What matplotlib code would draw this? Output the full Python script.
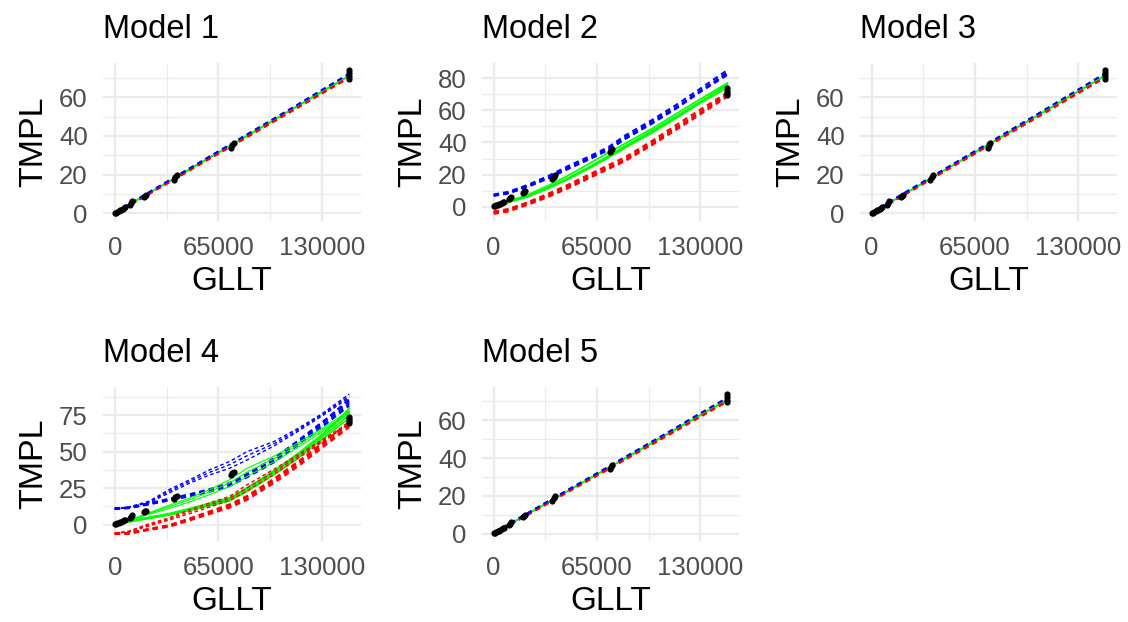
import numpy as np
import matplotlib.pyplot as plt

plt.rcParams['font.family'] = ['Liberation Sans', 'DejaVu Sans']

# observed points (same data in every panel)
gllt = [400, 900, 1500, 2600, 3200, 3800, 5000, 5700, 6300, 9600, 10300, 11000,
        18600, 19200, 19800, 37000, 38000, 38800, 73000, 73800, 74500,
        146600, 146800, 147000, 146800]
tmpl = [0.2, 0.4, 0.8, 1.3, 1.6, 1.9, 2.4, 2.8, 3.1, 4.6, 5.3, 6.2,
        8.6, 9.2, 9.6, 17.4, 18.6, 19.8, 34.0, 35.2, 36.1,
        69.6, 70.8, 72.3, 73.9]

# x positions where the fitted curves were read
fit_x = [0, 9000, 21500, 34000, 47000, 59500, 72000, 83000, 100000, 115000, 130000, 147000]

# model 1
m1_mid = [[0.1, 4.4, 10.4, 16.4, 22.7, 28.7, 34.7, 40.0, 48.2, 55.4, 62.7, 70.9],
          [0.2, 4.5, 10.5, 16.6, 22.9, 28.9, 34.9, 40.2, 48.4, 55.7, 63.0, 71.2]]
m1_lo = [[-0.2, 4.0, 10.0, 16.0, 22.2, 28.2, 34.1, 39.4, 47.5, 54.7, 61.9, 70.0],
         [-0.1, 4.1, 10.1, 16.1, 22.4, 28.4, 34.3, 39.6, 47.7, 54.9, 62.2, 70.3]]
m1_hi = [[0.4, 4.8, 10.8, 16.9, 23.2, 29.2, 35.2, 40.6, 48.8, 56.1, 63.5, 71.8],
         [0.5, 4.9, 10.9, 17.0, 23.3, 29.4, 35.4, 40.8, 49.0, 56.3, 63.8, 72.1]]

# model 2
m2_mid = [[1.5, 2.9, 6.7, 11.9, 18.0, 24.5, 31.5, 38.0, 47.5, 56.5, 65.5, 75.5],
          [1.3, 2.6, 6.2, 11.2, 17.2, 23.6, 30.4, 36.8, 46.2, 55.2, 64.5, 74.0],
          [1.8, 3.3, 7.5, 13.0, 19.5, 26.5, 33.5, 39.5, 48.8, 58.0, 67.0, 77.0],
          [1.4, 2.8, 6.4, 11.5, 17.6, 24.0, 30.8, 37.4, 47.0, 56.0, 65.0, 76.5]]
m2_lo = [[-3.1, -1.7, 2.5, 7.3, 13.0, 18.8, 24.5, 29.7, 40.0, 49.5, 59.0, 69.5],
         [-4.4, -3.0, 1.2, 6.0, 11.6, 17.5, 23.4, 28.6, 38.6, 48.0, 57.5, 68.5],
         [-3.0, -1.5, 2.8, 8.0, 13.8, 19.8, 25.8, 31.0, 41.2, 51.0, 60.5, 71.0],
         [-3.6, -2.2, 2.0, 6.8, 12.4, 18.2, 24.0, 29.2, 39.4, 49.0, 58.5, 70.0]]
m2_hi = [[7.3, 8.8, 13.0, 18.2, 24.5, 30.0, 36.0, 43.3, 53.0, 62.0, 72.0, 83.0],
         [6.8, 8.2, 12.4, 17.5, 23.6, 29.2, 35.2, 42.3, 52.0, 61.2, 71.5, 82.0],
         [7.6, 9.2, 13.6, 19.0, 25.4, 31.0, 37.0, 44.5, 54.2, 63.5, 73.5, 85.0],
         [7.0, 8.5, 12.7, 17.8, 24.0, 29.6, 35.6, 42.8, 52.5, 61.6, 71.8, 83.5]]

# model 3
m3_mid = [[0.1, 4.4, 10.4, 16.5, 22.8, 28.8, 34.8, 40.1, 48.3, 55.6, 62.9, 71.0],
          [0.2, 4.5, 10.5, 16.6, 22.9, 28.9, 34.9, 40.3, 48.5, 55.8, 63.1, 71.3]]
m3_lo = [[-0.2, 4.0, 10.0, 16.0, 22.3, 28.2, 34.2, 39.5, 47.6, 54.8, 62.0, 70.1],
         [-0.1, 4.1, 10.1, 16.2, 22.4, 28.4, 34.4, 39.7, 47.8, 55.0, 62.3, 70.4]]
m3_hi = [[0.4, 4.8, 10.9, 16.9, 23.3, 29.3, 35.3, 40.7, 48.9, 56.3, 63.7, 72.0],
         [0.5, 4.9, 11.0, 17.1, 23.4, 29.5, 35.5, 40.9, 49.1, 56.5, 63.9, 72.3]]

# model 4 (first four: main bundle, last three: looser fits)
m4_mid = [[1.1, 2.0, 4.5, 6.8, 10.2, 13.6, 17.0, 23.9, 35.5, 47.0, 60.0, 75.0],
          [1.3, 2.3, 5.0, 7.5, 11.0, 14.6, 18.4, 25.2, 37.0, 48.8, 61.8, 77.0],
          [1.0, 1.8, 4.2, 6.4, 9.6, 12.9, 16.2, 22.8, 34.2, 45.6, 58.4, 73.0],
          [1.2, 2.1, 4.7, 7.1, 10.6, 14.1, 17.8, 24.6, 36.4, 48.2, 61.4, 79.5],
          [1.0, 3.0, 8.0, 13.2, 18.2, 23.9, 30.7, 38.6, 47.0, 56.0, 66.0, 78.0],
          [1.2, 2.7, 7.0, 11.0, 15.5, 20.5, 26.0, 33.0, 43.0, 53.0, 63.5, 77.0],
          [1.1, 2.8, 7.5, 12.2, 17.0, 22.4, 28.5, 36.0, 45.2, 54.6, 64.8, 76.5]]
m4_lo = [[-6.4, -6.1, -3.4, -1.1, 3.4, 8.0, 12.5, 18.2, 30.0, 41.5, 54.0, 68.0],
         [-6.1, -5.8, -3.0, -0.5, 4.2, 9.0, 13.8, 19.6, 31.5, 43.2, 55.8, 69.5],
         [-6.5, -6.3, -3.7, -1.5, 2.8, 7.2, 11.5, 17.0, 28.6, 40.0, 52.6, 66.8],
         [-6.2, -5.9, -3.2, -0.8, 3.8, 8.5, 13.2, 19.0, 30.8, 42.6, 55.2, 70.5],
         [-6.0, -4.5, 0.5, 4.5, 10.2, 14.8, 19.3, 27.3, 38.0, 48.0, 58.0, 70.0],
         [-6.2, -5.0, -1.0, 3.0, 7.5, 12.0, 16.5, 23.0, 34.5, 45.5, 56.5, 69.0],
         [-6.1, -4.8, -0.2, 3.8, 8.8, 13.4, 18.0, 25.2, 36.2, 46.8, 57.2, 69.5]]
m4_hi = [[10.9, 11.4, 14.1, 17.0, 20.0, 23.2, 27.3, 33.5, 44.0, 56.0, 68.5, 83.0],
         [11.1, 11.7, 14.6, 17.6, 20.8, 24.2, 28.5, 34.8, 45.6, 57.6, 70.2, 84.5],
         [10.7, 11.2, 13.8, 16.5, 19.4, 22.5, 26.4, 32.4, 42.8, 54.6, 67.0, 81.5],
         [11.0, 11.5, 14.3, 17.3, 20.4, 23.8, 28.0, 34.2, 44.8, 56.8, 69.6, 86.0],
         [10.5, 12.0, 16.0, 23.9, 30.7, 37.5, 43.2, 50.0, 57.0, 66.0, 76.0, 89.5],
         [10.5, 11.8, 15.0, 21.6, 28.4, 34.0, 38.6, 44.3, 54.0, 64.0, 74.5, 87.0],
         [10.6, 11.9, 15.5, 22.8, 29.6, 35.8, 41.0, 47.2, 55.5, 65.0, 75.2, 88.2]]
m4_width = [1.5, 1.5, 1.5, 1.5, 1.0, 1.0, 1.0]

# model 5
m5_mid = [[0.1, 4.4, 10.4, 16.4, 22.7, 28.7, 34.6, 39.9, 48.1, 55.3, 62.6, 70.7],
          [0.2, 4.5, 10.5, 16.5, 22.8, 28.8, 34.8, 40.1, 48.3, 55.6, 62.9, 71.0]]
m5_lo = [[-0.2, 4.0, 9.9, 15.9, 22.2, 28.1, 34.0, 39.3, 47.4, 54.6, 61.8, 69.9],
         [-0.1, 4.1, 10.1, 16.1, 22.3, 28.3, 34.2, 39.5, 47.6, 54.8, 62.1, 70.2]]
m5_hi = [[0.4, 4.8, 10.8, 16.8, 23.1, 29.1, 35.1, 40.5, 48.7, 56.0, 63.4, 71.6],
         [0.5, 4.9, 10.9, 17.0, 23.3, 29.3, 35.3, 40.7, 48.9, 56.2, 63.7, 71.9]]

titles = ["Model 1", "Model 2", "Model 3", "Model 4", "Model 5"]
mids = [m1_mid, m2_mid, m3_mid, m4_mid, m5_mid]
los = [m1_lo, m2_lo, m3_lo, m4_lo, m5_lo]
his = [m1_hi, m2_hi, m3_hi, m4_hi, m5_hi]
x_ticks = [0, 65000, 130000]
x_tick_labels = ["0", "65000", "130000"]
y_major = [[0, 20, 40, 60], [0, 20, 40, 60, 80], [0, 20, 40, 60],
           [0, 25, 50, 75], [0, 20, 40, 60]]
y_minor = [[10, 30, 50, 70], [10, 30, 50, 70], [10, 30, 50, 70],
           [12.5, 37.5, 62.5, 87.5], [10, 30, 50, 70]]

W, H = 1128, 622
# panel boxes in pixels: left, top, right, bottom
boxes = [(103, 63, 361, 221), (482, 63, 739, 221), (860, 63, 1117, 221),
         (103, 387, 361, 541), (482, 387, 739, 541)]


def main():
    fig = plt.figure(figsize=(W / 100, H / 100), dpi=100)
    for i in range(5):
        l, t, r, b = boxes[i]
        ax = fig.add_axes([l / W, 1 - b / H, (r - l) / W, (b - t) / H])
        for k in range(len(mids[i])):
            lw = m4_width[k] if i == 3 else 1.5
            ax.plot(fit_x, mids[i][k], color='#00FF00', lw=lw * 0.8, zorder=3)
            ax.plot(fit_x, los[i][k], color='#FF0000', lw=lw,
                    linestyle=(0, (2.6, 2.0)), zorder=3)
            ax.plot(fit_x, his[i][k], color='#0000FF', lw=lw,
                    linestyle=(0, (2.6, 2.0)), zorder=3)
        ax.scatter(gllt, tmpl, s=20, color='black', zorder=4, linewidths=0)

        ax.set_xticks(x_ticks)
        ax.set_xticklabels(x_tick_labels)
        ax.set_xticks([32500, 97500], minor=True)
        ax.set_yticks(y_major[i])
        ax.set_yticks(y_minor[i], minor=True)
        ax.margins(0.05)
        ax.grid(which='major', color='#EBEBEB', lw=1.7, zorder=0)
        ax.grid(which='minor', color='#EBEBEB', lw=0.9, zorder=0)
        ax.set_axisbelow(True)
        for s in ax.spines.values():
            s.set_visible(False)
        ax.tick_params(which='both', length=0)
        ax.tick_params(axis='x', labelsize=18.5, labelcolor='#4D4D4D', pad=11)
        ax.tick_params(axis='y', labelsize=18.5, labelcolor='#4D4D4D', pad=11)
        ax.set_xlabel('GLLT', fontsize=24, labelpad=4)
        ax.set_ylabel('TMPL', fontsize=24.5, labelpad=7)
        ax.set_title(titles[i], loc='left', fontsize=23.5, pad=18)

    fig.savefig('out.png', dpi=100)
    plt.close(fig)


if __name__ == "__main__":
    main()
